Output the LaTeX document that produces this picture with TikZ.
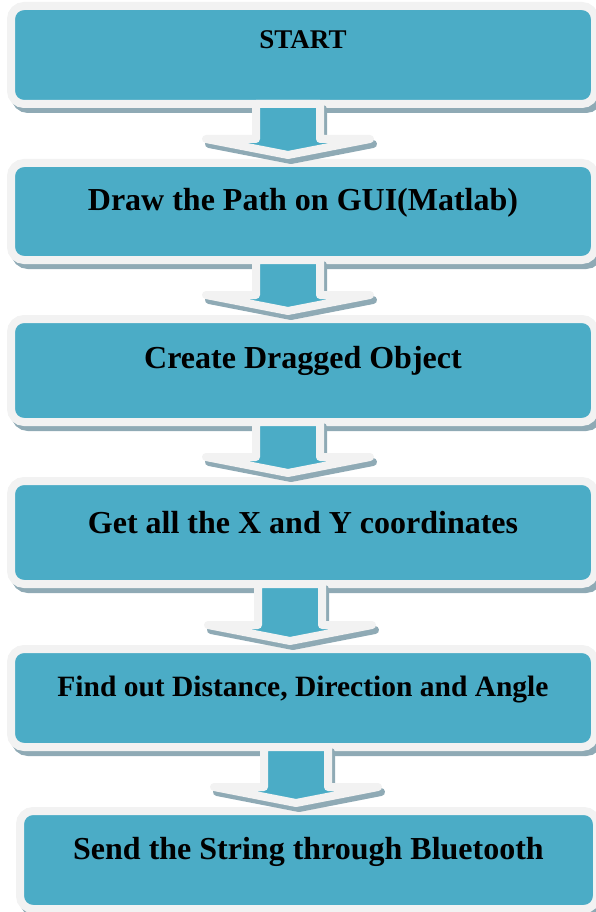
\documentclass[tikz,border=0pt]{standalone}
\usepackage{fontspec}
\setmainfont{Liberation Serif}
\usetikzlibrary{positioning, calc, shadows}
\definecolor{boxteal}{HTML}{4BACC6}
\definecolor{boxrim}{HTML}{F2F2F2}
\definecolor{boxshade}{HTML}{8FAAB5}

\begin{document}
\begin{tikzpicture}[
    x=1pt, y=1pt,
    node distance=51pt,
    box/.style={rectangle, rounded corners=13pt, fill=boxteal, draw=boxrim, line width=8pt,
        minimum width=584pt, inner sep=0pt, text height=48pt, text depth=50pt, align=center,
        font=\fontsize{32}{38}\selectfont\bfseries,
        drop shadow={shadow xshift=4pt, shadow yshift=-5pt, fill=boxshade, draw=boxshade, line width=8pt, opacity=1}},
    arrow/.style={fill=boxteal, draw=boxrim, line width=8pt, line join=round},
    arrowshade/.style={fill=boxshade, draw=boxshade, line width=8pt, line join=round}
]
\useasboundingbox (0,0) rectangle (596,-912);

\node (start) [box, text height=43pt, text depth=55pt, font=\fontsize{27}{32}\selectfont\bfseries] at (303,-55) {START};
\node (gui) [box, below=of start, text height=48pt, text depth=49pt] {Draw the Path on GUI(Matlab)};
\node (create) [box, below=of gui, text height=49pt, text depth=54pt] {Create Dragged Object};
\node (coords) [box, below=of create, text height=52pt, text depth=51pt] {Get all the X and Y coordinates};
\node (find) [box, below=57pt of coords, text height=47pt, text depth=51pt, font=\fontsize{29.5}{35}\selectfont\bfseries] {Find out Distance, Direction and Angle};
\node (send) [box, below=56pt of find, xshift=5.5pt, minimum width=577pt] {Send the String through Bluetooth};

% block arrows between the steps
\foreach \a/\b/\dx in {start/gui/-15, gui/create/-15, create/coords/-15, coords/find/-13, find/send/-7} {
  \scoped[transform canvas={shift={(3pt,-5pt)}}]
  \draw[arrowshade] let \p1=(\a.south), \p2=(\b.north) in
    (\x1+\dx-32,\y1+4) -- (\x1+\dx+32,\y1+4) -- (\x1+\dx+32,\y2+20) -- (\x1+\dx+82,\y2+20)
    -- (\x1+\dx,\y2+4) -- (\x1+\dx-82,\y2+20) -- (\x1+\dx-32,\y2+20) -- cycle;
  \draw[arrow] let \p1=(\a.south), \p2=(\b.north) in
    (\x1+\dx-32,\y1+4) -- (\x1+\dx+32,\y1+4) -- (\x1+\dx+32,\y2+20) -- (\x1+\dx+82,\y2+20)
    -- (\x1+\dx,\y2+4) -- (\x1+\dx-82,\y2+20) -- (\x1+\dx-32,\y2+20) -- cycle;
}

\end{tikzpicture}
\end{document}
